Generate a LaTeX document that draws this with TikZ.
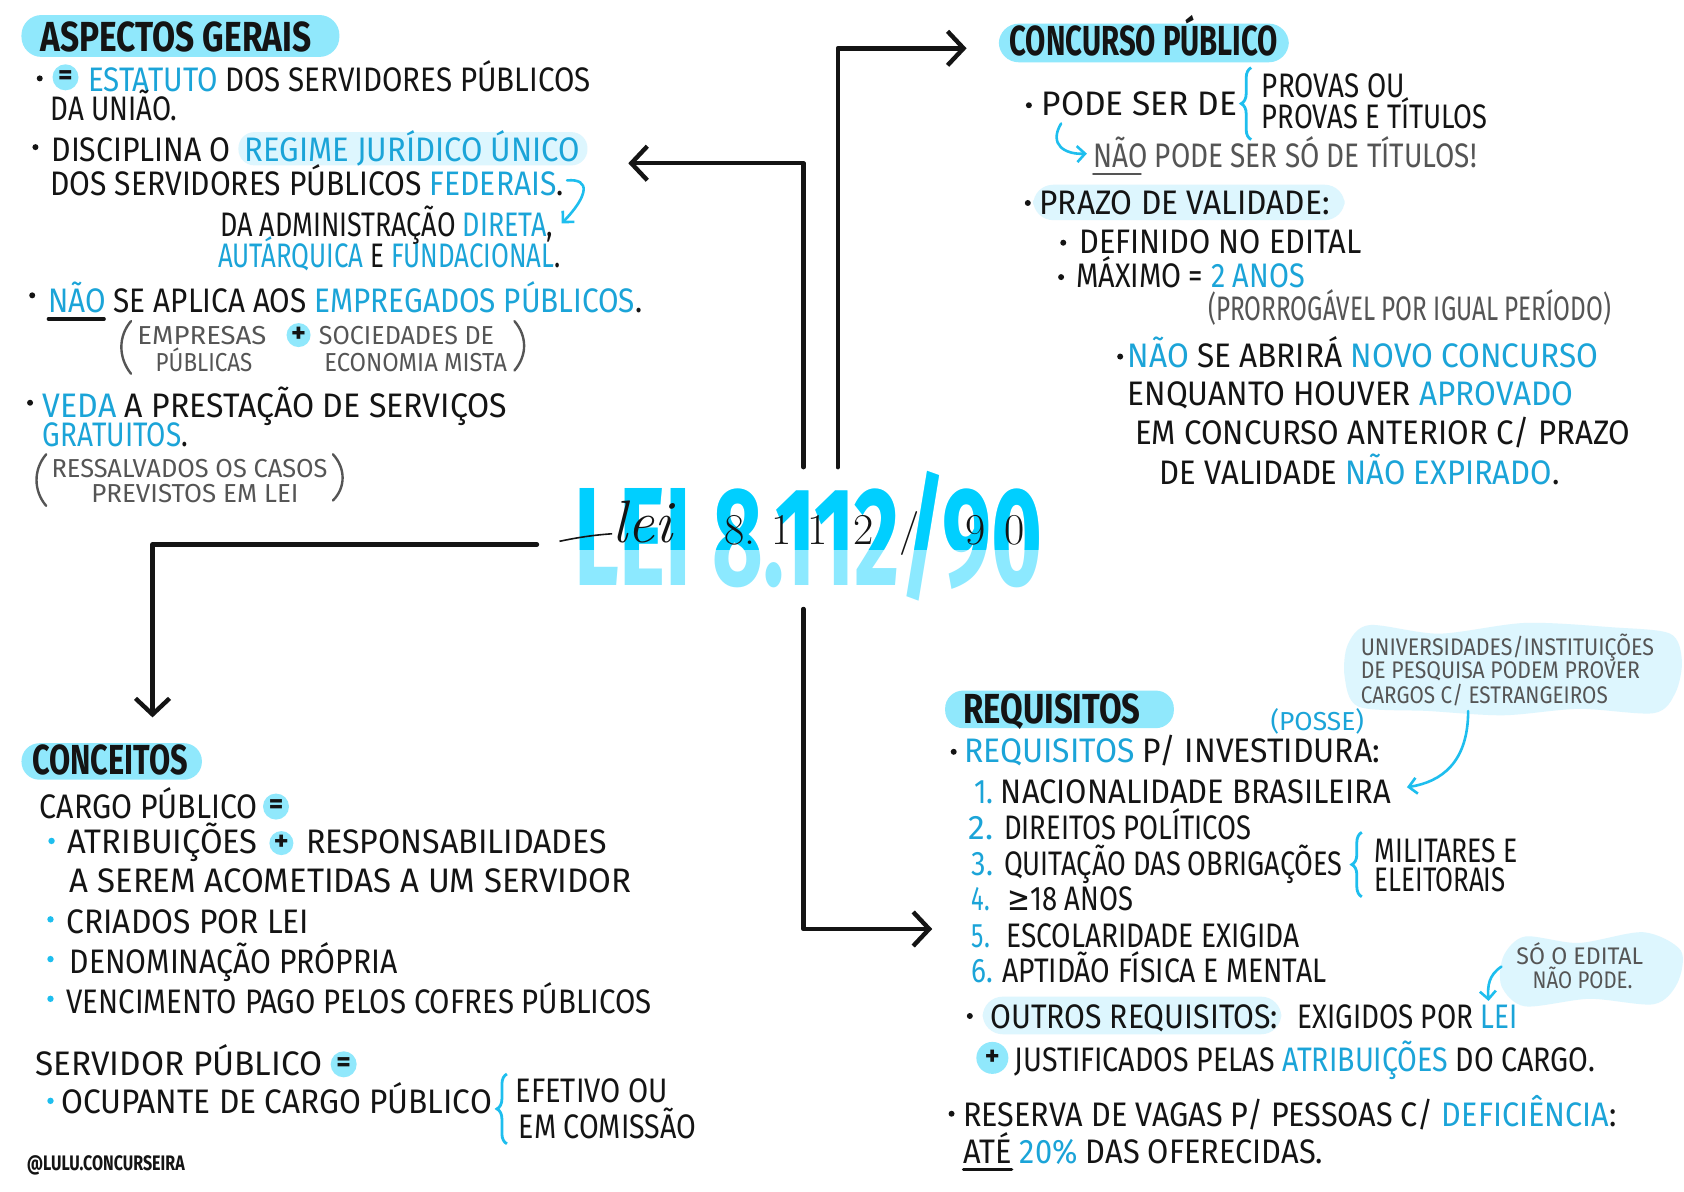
\documentclass[tikz,border=0pt]{standalone}
\usepackage{fontspec}
\usepackage{graphicx}
\usetikzlibrary{arrows.meta,decorations.pathreplacing}
\newfontfamily\hand{Fira Sans}
\newfontfamily\sym{DejaVu Sans}
\definecolor{pill}{RGB}{144,232,252}
\definecolor{tb}{RGB}{27,164,216}
\definecolor{cy}{RGB}{30,190,238}
\definecolor{pale}{RGB}{221,246,254}
\definecolor{gr}{RGB}{85,85,85}
\definecolor{tdark}{RGB}{0,207,255}
\definecolor{tlight}{RGB}{140,233,255}
\definecolor{ink}{RGB}{20,20,20}
\newsavebox\fitbox
\newlength\fitlen
\newcommand\fitw[2]{\sbox\fitbox{#2}\setlength\fitlen{\wd\fitbox}\pgfmathsetmacro\fitf{(#1)*0.537/\fitlen}\scalebox{\fitf}[1]{\usebox\fitbox}}
\newcommand\tline[6][]{\node[tx,#1] (#2) at (#3,#4) {\fitw{#5-#3}{#6}};}
\tikzset{
  tx/.style={anchor=base west, inner sep=0pt, outer sep=0pt, text=ink, font=\hand\fontsize{17}{20}\selectfont},
  hd/.style={font=\hand\bfseries\fontsize{21}{24}\selectfont},
  sm/.style={text=gr, font=\hand\fontsize{13}{15}\selectfont},
  gt/.style={text=gr},
  cl/.style={text=gr, font=\hand\fontsize{12}{14}\selectfont},
  sig/.style={font=\hand\bfseries\fontsize{10.5}{12}\selectfont},
  num/.style={text=tb},
  eqc/.style={circle, fill=pill, inner sep=0pt, minimum size=13pt, text=ink, font=\hand\bfseries\fontsize{14}{14}\selectfont},
  plc/.style={circle, fill=pill, inner sep=0pt, minimum size=12pt, text=ink, font=\hand\bfseries\fontsize{14}{14}\selectfont},
  parl/.style={draw=gr, line width=1.2pt, line cap=round},
  conn/.style={draw=ink, line width=2.2pt, line cap=round, line join=round, -{Straight Barb[length=8pt,width=17pt]}},
  carr/.style={draw=cy, line width=1.3pt, line cap=round, -{Straight Barb[length=4pt,width=8pt]}},
  brace/.style={decorate, decoration={brace, amplitude=5pt}, draw=cy, line width=1.4pt},
  hw/.style={anchor=base, inner sep=0pt, text=ink, font=\rmfamily\fontsize{22}{22}\selectfont}
}
\begin{document}
\begin{tikzpicture}[x=0.537pt,y=-0.537pt]
\fill[white] (0,0) rectangle (1568,1109);
\useasboundingbox (0,0) rectangle (1568,1109);

% ---------- ASPECTOS GERAIS ----------
\fill[pill,rounded corners=10pt] (20,14) rectangle (316,53);
\tline[hd]{h1}{38}{48}{290}{ASPECTOS GERAIS}
\fill[ink] (37,73) circle (1.5pt);
\node[eqc] (eq1) at (61,72) {=};
\tline{l1}{82}{85}{550}{{\color{tb}ESTATUTO} DOS SERVIDORES PÚBLICOS}
\tline{l2}{47}{112}{165}{DA UNIÃO.}
\fill[ink] (33,137) circle (1.5pt);
\fill[pale,rounded corners=8pt] (222,123) rectangle (547,154);
\tline{l3}{48}{150}{215}{DISCIPLINA O}
\tline{l3b}{228}{150}{540}{{\color{tb}REGIME JURÍDICO ÚNICO}}
\tline{l4}{47}{182}{525}{DOS SERVIDORES PÚBLICOS {\color{tb}FEDERAIS}.}
\tline{l5}{205}{220}{515}{DA ADMINISTRAÇÃO {\color{tb}DIRETA},}
\tline{l6}{203}{249}{522}{{\color{tb}AUTÁRQUICA} E {\color{tb}FUNDACIONAL}.}
\coordinate (fa1) at (528,168);
\coordinate (fa2) at (523,208);
\draw[carr] (fa1) .. controls (550,166) and (548,182) .. (fa2);
\fill[ink] (30,275) circle (1.5pt);
\tline{l7}{45}{291}{598}{{\color{tb}NÃO} SE APLICA AOS {\color{tb}EMPREGADOS PÚBLICOS}.}
\draw[ink,line width=1.6pt,line cap=round] (45,297) -- (97,297);
\draw[parl] (122,299) .. controls (110,313) and (110,333) .. (122,348);
\tline[sm]{g1}{128}{321}{248}{EMPRESAS}
\tline[sm]{g2}{145}{346}{235}{PÚBLICAS}
\node[plc] (pl1) at (278,312) {+};
\tline[sm]{g3}{297}{321}{460}{SOCIEDADES DE}
\tline[sm]{g4}{302}{346}{472}{ECONOMIA MISTA}
\draw[parl] (479,299) .. controls (491,313) and (491,331) .. (479,345);
\fill[ink] (28,375) circle (1.5pt);
\tline{l8}{40}{389}{472}{{\color{tb}VEDA} A PRESTAÇÃO DE SERVIÇOS}
\tline{l9}{40}{416}{175}{{\color{tb}GRATUITOS}.}
\draw[parl] (43,423) .. controls (31,437) and (31,457) .. (43,471);
\tline[sm]{g5}{48}{445}{305}{RESSALVADOS OS CASOS}
\tline[sm]{g6}{85}{468}{278}{PREVISTOS EM LEI}
\draw[parl] (310,423) .. controls (322,436) and (322,454) .. (310,466);

% ---------- CONCURSO PUBLICO ----------
\fill[pill,rounded corners=10pt] (930,22) rectangle (1200,58);
\tline[hd]{h2}{940}{52}{1190}{CONCURSO PÚBLICO}
\fill[ink] (958,98) circle (1.5pt);
\tline{r1}{970}{108}{1152}{PODE SER DE}
\draw[brace] (1165,130) -- (1165,63);
\tline{r2}{1175}{91}{1308}{PROVAS OU}
\tline{r3}{1175}{120}{1385}{PROVAS E TÍTULOS}
\coordinate (ca1) at (988,115);
\coordinate (ca2) at (1012,143);
\draw[carr] (ca1) .. controls (976,135) and (992,144) .. (ca2);
\tline[gt]{r4}{1018}{156}{1375}{NÃO PODE SER SÓ DE TÍTULOS!}
\draw[gr,line width=1.4pt,line cap=round] (1018,162) -- (1062,162);
\fill[pale,rounded corners=10pt] (962,172) rectangle (1252,205);
\fill[ink] (957,189) circle (1.5pt);
\tline{r5}{968}{200}{1238}{PRAZO DE VALIDADE:}
\fill[ink] (990,226) circle (1.5pt);
\tline{r6}{1005}{236}{1268}{DEFINIDO NO EDITAL}
\fill[ink] (988,258) circle (1.5pt);
\tline{r7}{1002}{268}{1215}{MÁXIMO = {\color{tb}2 ANOS}}
\tline[gt]{r8}{1125}{298}{1500}{(PRORROGÁVEL POR IGUAL PERÍODO)}
\fill[ink] (1043,332) circle (1.5pt);
\tline{r9}{1050}{342}{1488}{{\color{tb}NÃO} SE ABRIRÁ {\color{tb}NOVO CONCURSO}}
\tline{r10}{1050}{378}{1465}{ENQUANTO HOUVER {\color{tb}APROVADO}}
\tline{r11}{1057}{414}{1518}{EM CONCURSO ANTERIOR C/ PRAZO}
\tline{r12}{1080}{451}{1452}{DE VALIDADE {\color{tb}NÃO EXPIRADO}.}

% ---------- TITLE ----------
\node[anchor=base west, inner sep=0pt, text=tlight, font=\hand\bfseries\fontsize{70}{70}\selectfont] (titleL) at (535,545) {\fitw{435}{LEI 8.112/90}};
\begin{scope}
\clip (500,430) rectangle (1000,512);
\node[anchor=base west, inner sep=0pt, text=tdark, font=\hand\bfseries\fontsize{70}{70}\selectfont] (titleD) at (535,545) {\fitw{435}{LEI 8.112/90}};
\end{scope}
\draw[ink,line width=0.8pt] (521,504) .. controls (540,500) and (555,498) .. (570,497);
\node[hw,font=\rmfamily\itshape\fontsize{30}{30}\selectfont] (lei) at (598,505) {lei};
\node[hw] (d1) at (689,507) {8.};
\node[hw] (d2) at (728,507) {1};
\node[hw] (d3) at (761,507) {1};
\node[hw] (d4) at (804,507) {2};
\node[hw] (d5) at (847,507) {/};
\node[hw] (d6) at (908,507) {9};
\node[hw] (d7) at (945,507) {0};

% ---------- MAIN CONNECTORS ----------
\coordinate (aTLs) at (748,435); \coordinate (aTLe) at (585,152);
\coordinate (aTRs) at (780,435); \coordinate (aTRe) at (900,45);
\coordinate (aBLs) at (500,507); \coordinate (aBLe) at (142,668);
\coordinate (aBRs) at (748,567); \coordinate (aBRe) at (868,865);
\draw[conn] (aTLs) |- (aTLe);
\draw[conn] (aTRs) |- (aTRe);
\draw[conn] (aBLs) -| (aBLe);
\draw[conn] (aBRs) |- (aBRe);

% ---------- CONCEITOS ----------
\fill[pill,rounded corners=9pt] (20,692) rectangle (188,726);
\tline[hd]{h3}{30}{721}{175}{CONCEITOS}
\tline{c1}{37}{762}{240}{CARGO PÚBLICO}
\node[eqc] (eq2) at (257,751) {=};
\fill[cy] (48,783) circle (1.6pt);
\tline{c2}{63}{795}{240}{ATRIBUIÇÕES}
\node[plc] (pl2) at (262,785) {+};
\tline{c3}{285}{795}{565}{RESPONSABILIDADES}
\tline{c4}{65}{831}{588}{A SEREM ACOMETIDAS A UM SERVIDOR}
\fill[cy] (47,856) circle (1.6pt);
\tline{c5}{62}{869}{288}{CRIADOS POR LEI}
\fill[cy] (47,893) circle (1.6pt);
\tline{c6}{65}{906}{370}{DENOMINAÇÃO PRÓPRIA}
\fill[cy] (47,930) circle (1.6pt);
\tline{c7}{62}{944}{607}{VENCIMENTO PAGO PELOS COFRES PÚBLICOS}
\tline{c8}{33}{1001}{300}{SERVIDOR PÚBLICO}
\node[eqc] (eq3) at (320,991) {=};
\fill[cy] (47,1025) circle (1.6pt);
\tline{c9}{57}{1037}{458}{OCUPANTE DE CARGO PÚBLICO}
\draw[brace] (472,1065) -- (472,1000);
\tline{c10}{480}{1027}{622}{EFETIVO OU}
\tline{c11}{483}{1060}{648}{EM COMISSÃO}
\tline[sig]{c12}{25}{1090}{172}{@LULU.CONCURSEIRA}

% ---------- REQUISITOS ----------
\fill[pale] plot[smooth cycle] coordinates {(1255,600) (1275,582) (1340,590) (1420,580) (1500,584) (1555,590) (1566,615) (1560,645) (1540,664) (1470,660) (1400,666) (1330,662) (1265,658) (1252,630)};
\tline[cl]{u1}{1267}{610}{1540}{UNIVERSIDADES/INSTITUIÇÕES}
\tline[cl]{u2}{1267}{632}{1527}{DE PESQUISA PODEM PROVER}
\tline[cl]{u3}{1267}{655}{1497}{CARGOS C/ ESTRANGEIROS}
\coordinate (ua1) at (1367,662);
\coordinate (ua2) at (1310,733);
\draw[carr] (ua1) .. controls (1367,710) and (1342,728) .. (ua2);
\fill[pill,rounded corners=9pt] (880,643) rectangle (1093,678);
\tline[hd]{h4}{897}{674}{1062}{REQUISITOS}
\tline[sm,num]{q0}{1183}{680}{1270}{(POSSE)}
\fill[ink] (888,700) circle (1.5pt);
\tline{q1}{898}{710}{1285}{{\color{tb}REQUISITOS} P/ INVESTIDURA:}
\tline[num]{n1}{907}{748}{925}{1.}
\tline{q2}{932}{748}{1295}{NACIONALIDADE BRASILEIRA}
\tline[num]{n2}{902}{782}{925}{2.}
\tline{q3}{935}{782}{1165}{DIREITOS POLÍTICOS}
\tline[num]{n3}{905}{815}{925}{3.}
\tline{q4}{935}{815}{1250}{QUITAÇÃO DAS OBRIGAÇÕES}
\draw[brace] (1268,835) -- (1268,775);
\tline{q5}{1280}{803}{1413}{MILITARES E}
\tline{q6}{1280}{830}{1402}{ELEITORAIS}
\tline[num]{n4}{905}{848}{922}{4.}
\tline{q7}{938}{848}{1055}{{\sym ≥}18 ANOS}
\tline[num]{n5}{905}{882}{922}{5.}
\tline{q8}{937}{882}{1210}{ESCOLARIDADE EXIGIDA}
\tline[num]{n6}{905}{915}{925}{6.}
\tline{q9}{933}{915}{1235}{APTIDÃO FÍSICA E MENTAL}
\fill[pale] plot[smooth cycle] coordinates {(1400,890) (1420,872) (1470,878) (1530,868) (1565,885) (1562,915) (1540,935) (1480,930) (1420,937) (1398,918)};
\tline[cl]{s1}{1412}{898}{1530}{SÓ O EDITAL}
\tline[cl]{s2}{1427}{920}{1520}{NÃO PODE.}
\coordinate (sa1) at (1398,900);
\coordinate (sa2) at (1386,932);
\draw[carr] (sa1) .. controls (1386,908) and (1385,918) .. (sa2);
\fill[pale,rounded corners=10pt] (915,928) rectangle (1193,963);
\fill[ink] (903,946) circle (1.5pt);
\tline{q10}{922}{958}{1190}{OUTROS REQUISITOS:}
\tline{q11}{1208}{958}{1413}{EXIGIDOS POR {\color{tb}LEI}}
\node[plc,minimum size=16pt] (pl3) at (924,985) {+};
\tline{q12}{945}{998}{1485}{JUSTIFICADOS PELAS {\color{tb}ATRIBUIÇÕES} DO CARGO.}
\fill[ink] (886,1037) circle (1.5pt);
\tline{q13}{897}{1049}{1505}{RESERVA DE VAGAS P/ PESSOAS C/ {\color{tb}DEFICIÊNCIA}:}
\tline{q14}{897}{1083}{1232}{ATÉ {\color{tb}20\%} DAS OFERECIDAS.}
\draw[ink,line width=1.6pt,line cap=round] (897,1089) -- (942,1089);
\end{tikzpicture}
\end{document}
